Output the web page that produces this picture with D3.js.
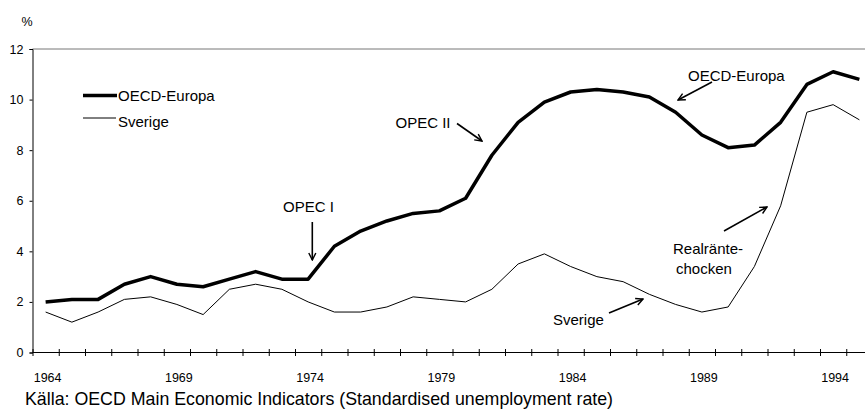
<!DOCTYPE html>
<html lang="sv">
<head>
<meta charset="UTF-8">
<title>Arbetslöshet OECD-Europa och Sverige</title>
<script src="https://d3js.org/d3.v7.min.js"></script>
<style>
  body { margin: 0; background: #fff; }
  svg { display: block; font-family: "Liberation Sans", Arial, sans-serif; }
  .axis path, .axis line { stroke: #000; }
  .axis text { font-size: 12.5px; fill: #000; }
</style>
</head>
<body>
<svg id="chart" width="865" height="414"></svg>
<script>
const years = d3.range(1964, 1996);
const oecdEuropa = [2.0, 2.1, 2.1, 2.7, 3.0, 2.7, 2.6, 2.9, 3.2, 2.9, 2.9, 4.2, 4.8, 5.2, 5.5, 5.6,
  6.1, 7.8, 9.1, 9.9, 10.3, 10.4, 10.3, 10.1, 9.5, 8.6, 8.1, 8.2, 9.1, 10.6, 11.1, 10.8];
const sverige = [1.6, 1.2, 1.6, 2.1, 2.2, 1.9, 1.5, 2.5, 2.7, 2.5, 2.0, 1.6, 1.6, 1.8, 2.2, 2.1,
  2.0, 2.5, 3.5, 3.9, 3.4, 3.0, 2.8, 2.3, 1.9, 1.6, 1.8, 3.4, 5.8, 9.5, 9.8, 9.2];
const yearLabels = [1964, 1969, 1974, 1979, 1984, 1989, 1994];
const yTicks = [0, 2, 4, 6, 8, 10, 12];

const svg = d3.select('#chart');
const step = 26.25;
const x = d3.scaleLinear().domain([1963.5, 1995.5]).range([32.5, 32.5 + 32 * step]);
const y = d3.scaleLinear().domain([0, 12]).range([352.5, 49]);

// arrow head
svg.append('defs').append('marker')
  .attr('id', 'arr').attr('viewBox', '0 0 10 10').attr('refX', 9).attr('refY', 5)
  .attr('markerWidth', 5.5).attr('markerHeight', 5.5).attr('orient', 'auto')
  .append('path').attr('d', 'M1,1 L9,5 L1,9').attr('fill', 'none')
  .attr('stroke', '#000').attr('stroke-width', 1.6);

// top frame line
svg.append('line').attr('x1', x(1963.5)).attr('x2', 865).attr('y1', y(12)).attr('y2', y(12))
  .attr('stroke', '#777').attr('stroke-width', 1);

// x axis, ticks between the years
const xAxis = d3.axisBottom(x).tickValues(d3.range(1963.5, 1996, 1)).tickSize(3.5).tickFormat('');
const xg = svg.append('g').attr('class', 'axis').attr('transform', `translate(0,${y(0)})`).call(xAxis);
xg.select('.domain').attr('d', `M${x(1963.5)},0H865`);
xg.selectAll('.tick line').attr('y1', -3.5).attr('y2', 3.5);

svg.append('g').selectAll('text').data(yearLabels).join('text')
  .attr('x', d => x(d) + 2).attr('y', 381.5).attr('text-anchor', 'middle')
  .attr('font-size', 12.5).text(d => d);

// y axis
const yAxis = d3.axisLeft(y).tickValues(yTicks).tickSize(3).tickPadding(6);
svg.append('g').attr('class', 'axis').attr('transform', `translate(${x(1963.5)},0)`).call(yAxis);

svg.append('text').attr('x', 27).attr('y', 26).attr('text-anchor', 'middle')
  .attr('font-size', 12.5).text('%');

// lines
const line = d3.line().x((d, i) => x(years[i])).y(d => y(d));
svg.append('path').datum(sverige).attr('d', line).attr('fill', 'none')
  .attr('stroke', '#000').attr('stroke-width', 1);
svg.append('path').datum(oecdEuropa).attr('d', line).attr('fill', 'none')
  .attr('stroke', '#000').attr('stroke-width', 3.5).attr('stroke-linejoin', 'round');

// legend
svg.append('line').attr('x1', 83).attr('x2', 117).attr('y1', 95.5).attr('y2', 95.5)
  .attr('stroke', '#000').attr('stroke-width', 3.5);
svg.append('text').attr('x', 118).attr('y', 100.5).attr('font-size', 15).text('OECD-Europa');
svg.append('line').attr('x1', 83).attr('x2', 116).attr('y1', 118).attr('y2', 118)
  .attr('stroke', '#000').attr('stroke-width', 1);
svg.append('text').attr('x', 118).attr('y', 127).attr('font-size', 15).text('Sverige');

// annotations
const notes = [
  { t: 'OPEC I', x: 283, y: 212 },
  { t: 'OPEC II', x: 395.5, y: 128 },
  { t: 'OECD-Europa', x: 688, y: 81 },
  { t: 'Realränte-', x: 673, y: 254 },
  { t: 'chocken', x: 676, y: 274 },
  { t: 'Sverige', x: 553, y: 325 }
];
svg.append('g').selectAll('text').data(notes).join('text')
  .attr('x', d => d.x).attr('y', d => d.y).attr('font-size', 15).text(d => d.t);

const arrows = [
  [312.3, 222, 312.3, 260],
  [457, 123.5, 482, 141],
  [712, 82, 678, 100],
  [724, 231, 767, 207],
  [609, 313, 643, 299]
];
svg.append('g').selectAll('line').data(arrows).join('line')
  .attr('x1', d => d[0]).attr('y1', d => d[1]).attr('x2', d => d[2]).attr('y2', d => d[3])
  .attr('stroke', '#000').attr('stroke-width', 1.6).attr('marker-end', 'url(#arr)');

svg.append('text').attr('x', 25).attr('y', 405).attr('font-size', 17.8)
  .text('Källa: OECD Main Economic Indicators (Standardised unemployment rate)');
</script>
</body>
</html>
